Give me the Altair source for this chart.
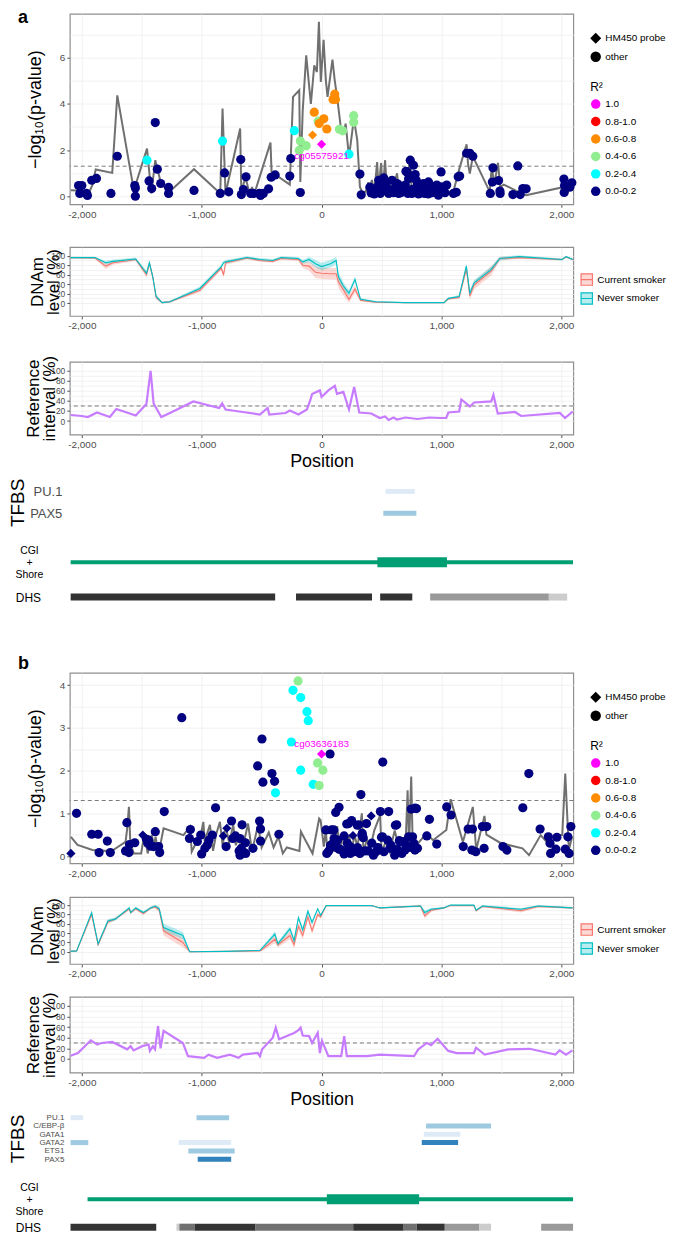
import altair as alt
import pandas as pd

# ---------------- shared settings ----------------
W = 505
XDOM = [-2100, 2100]
XTICKS = [-2000, -1500, -1000, -500, 0, 500, 1000, 1500, 2000]
SIG = 1.3
REF_CUT = 30
R2_DOM = ["1.0", "0.8-1.0", "0.6-0.8", "0.4-0.6", "0.2-0.4", "0.0-0.2"]
R2_COL = ["#FF00FF", "#FF0000", "#FF8C00", "#90EE90", "#00FFFF", "#000080"]
PROBE_DOM = ["HM450 probe", "other"]
PROBE_SHAPE = ["diamond", "circle"]
SMOKE_DOM = ["Current smoker", "Never smoker"]
SMOKE_LINE = ["#F8766D", "#00BFC4"]
SMOKE_FILL = ["rgba(248,118,109,0.28)", "rgba(0,191,196,0.28)"]
TF_LVL = ["low", "mid", "high"]
TF_COL = ["#DEEBF7", "#9ECAE1", "#3182BD"]
DHS_LVL = ["d", "m", "g", "l"]
DHS_COL = ["#333333", "#707070", "#999999", "#CCCCCC"]
CGI_KIND = ["shore", "island"]

# ---------------- panel a data ----------------
a_navy = [(-2027,0.46),(-2000,0.46),(-2017,0.12),(-1961,0.12),(-1953,0.03),(-1917,0.69),(-1878,0.77),(-1757,0.12),
          (-1704,1.73),(-1558,0.46),(-1553,0.36),(-1553,0.0),(-1439,0.66),(-1417,0.33),(-1387,3.19),(-1370,1.17),
          (-1342,0.55),(-1276,0.38),(-1276,0.12),(-1064,0.25),(-845,0.12),(-809,1.01),(-774,0.19),(-674,1.59),
          (-669,0.07),(-652,0.29),(-630,0.84),(-591,0.12),(-569,0.12),(-519,0.12),(-509,0.03),(-486,0.12),
          (-442,0.32),(-420,0.82),(-387,0.92),(-265,0.87),(-257,1.63),(-177,0.16),
          (320,0.96),(331,0.06),(403,0.39),(414,0.14),(430,0.25),(440,0.1),(450,0.3),(464,0.4),(477,0.69),(490,0.12),
          (500,0.2),(505,0.45),(519,0.79),(533,0.55),(540,0.25),(547,0.33),(560,0.12),(575,0.2),(588,0.69),(600,0.15),
          (610,0.2),(616,0.4),(630,0.55),(643,0.12),(655,0.45),(660,0.15),(671,0.33),(685,0.2),(690,0.3),(699,0.48),
          (704,1.08),(712,1.05),(720,0.12),(726,0.76),(740,1.56),(754,0.12),(760,0.3),(767,1.34),(781,0.94),(790,0.69),
          (800,0.48),(810,0.1),(823,0.26),(830,0.4),(850,0.55),(860,0.12),(865,0.3),(878,0.33),(890,0.1),(892,0.62),
          (906,0.4),(920,0.15),(933,0.19),(940,0.4),(950,0.25),(961,0.48),(975,0.04),(985,0.3),(997,1.05),(1000,0.4),
          (1016,0.26),(1030,0.15),(1044,0.48),(1100,0.12),(1124,0.17),(1140,0.84),(1152,0.87),(1210,1.86),(1237,1.86),
          (1262,1.73),(1408,0.12),(1425,0.61),(1430,1.23),(1477,0.68),(1488,0.22),(1490,0.12),(1596,0.07),(1637,1.31),
          (1657,0.07),(1679,0.33),(1707,0.32),(2022,0.74),(2024,0.16),(2027,0.46),(2071,0.39),(2088,0.58)]
a_cyan = [(-1456,1.56),(-826,2.39),(-227,2.84),(229,1.82)]
a_green = [(-186,1.99),(-177,2.39),(-128,2.19),(-28,3.25),(149,2.9),(176,2.83),(268,3.49),(268,3.2)]
a_orange = [(-61,3.64),(-20,3.15),(19,3.35),(44,2.91),(96,4.19),(110,4.42),(116,4.19)]
a_orange_probe = [(-75,2.65)]
a_probe = [(0,2.25)]
a_label = (0, 2.25, "cg05575921")

a_line = [(-2091,0.26),(-1934,0.23),(-1912,0.48),(-1884,1.16),(-1746,1.01),(-1704,4.37),(-1566,0.26),(-1456,2.06),
          (-1420,0.12),(-1387,1.56),(-1370,1.2),(-1342,0.6),(-1276,0.16),(-1064,1.17),(-845,0.12),(-826,3.8),
          (-801,0.12),(-679,2.93),(-669,0.12),(-636,0.84),(-597,0.05),(-580,0.4),(-564,0.05),(-426,2.32),(-415,0.8),
          (-387,0.94),(-265,0.5),(-238,4.3),(-186,4.59),(-177,0.62),(-157,3.72),(-128,6.1),(-89,4.0),(-61,5.67),
          (-39,5.38),(-22,7.56),(-6,4.95),(17,6.78),(36,5.02),(50,4.3),(91,5.92),(110,5.02),(133,4.16),(160,3.0),
          (187,2.8),(201,3.14),(229,1.7),(270,3.36),(298,2.42),(320,0.4),(340,0.17),(370,0.2),(390,0.6),(400,0.15),
          (420,0.7),(440,0.2),(464,1.48),(475,0.3),(497,1.44),(510,0.2),(530,1.56),(545,0.3),(570,0.5),(590,0.15),
          (610,0.6),(630,0.99),(645,0.2),(670,0.4),(690,0.15),(710,0.5),(740,1.7),(750,0.4),(770,0.2),(790,0.8),
          (810,0.2),(830,0.5),(850,0.15),(880,0.4),(900,0.1),(930,0.3),(960,0.15),(990,0.35),(1020,0.1),(1060,0.15),
          (1099,0.19),(1154,1.27),(1210,2.25),(1222,1.4),(1237,0.98),(1262,1.73),(1403,0.19),(1420,1.3),(1440,0.5),
          (1472,1.44),(1490,0.4),(1520,0.5),(1600,0.3),(1637,0.19),(1707,0.04),(2024,0.4),(2055,0.2),(2090,0.55)]

a_dnam_pos = [-2093,-1890,-1800,-1740,-1550,-1460,-1436,-1408,-1380,-1330,-1265,-1015,-836,-818,-800,-622,-515,
              -408,-336,-193,-157,-104,-50,0,75,122,140,182,229,279,325,450,700,1022,1058,1148,1208,1237,1273,1416,
              1487,1648,2005,2041,2095]
a_never = [96,96,85,88,93,63,85,56,14,1,3,31,77,85,87,96,92,90,96,94,87,92,83,77,83,90,56,36,21,50,8,3,1,1,10,14,
           78,21,43,71,94,98,92,98,92]
a_current = [96,95,78,85,92,60,84,55,12,1,3,27,74,59,85,95,90,88,94,92,80,78,65,63,62,62,45,28,8,30,6,2,1,1,9,12,
             72,15,38,68,94,96,92,97,92]
a_never_half = [2,2,4,4,3,5,5,5,4,2,2,4,4,4,4,3,3,3,3,3,4,6,8,8,8,8,10,8,6,6,3,2,1,1,2,3,6,6,6,6,4,3,2,2,2]
a_current_half = [2,2,6,4,3,6,6,6,4,2,2,4,4,6,4,3,3,3,3,3,6,10,12,12,12,12,12,12,8,8,3,2,1,1,2,3,8,8,8,10,4,3,2,2,2]

a_ref = [(-2093,12),(-2000,10),(-1950,8),(-1873,17),(-1766,8),(-1712,24),(-1550,11),(-1461,34),(-1426,100),
         (-1401,35),(-1337,8),(-1265,16),(-1069,39),(-854,26),(-829,35),(-801,23),(-658,18),(-515,13),(-450,26),
         (-436,13),(-300,16),(-265,21),(-193,13),(-122,23),(-93,42),(-79,54),(-14,61),(0,48),(57,61),(111,70),
         (129,54),(182,58),(229,23),(272,68),(315,17),(415,15),(486,6),(530,9),(560,2),(600,7),(629,3),(700,7),
         (800,4),(900,7),(987,6),(1040,6),(1058,17),(1148,19),(1166,43),(1237,29),(1273,37),(1416,39),(1434,52),
         (1470,15),(1613,18),(1666,10),(1988,16),(2031,6),(2095,19)]

a_tf_rows = ["PU.1", "PAX5"]
a_tf = [("PU.1", 533, 778, "low"), ("PAX5", 515, 791, "mid")]
a_cgi = [("shore", -2093, 2098), ("island", 466, 1046)]
a_dhs = [(-2093, -387, "d"), (-213, 421, "d"), (489, 757, "d"), (906, 1896, "g"), (1896, 2049, "l")]

# ---------------- panel b data ----------------
b_navy = [(-2044,1.0),(-1917,0.51),(-1864,0.51),(-1856,0.08),(-1787,0.35),(-1762,0.08),(-1624,0.78),(-1635,0.12),
          (-1607,0.08),(-1602,0.27),(-1558,0.31),(-1461,0.39),(-1450,0.30),(-1442,0.37),(-1425,0.23),(-1400,0.22),
          (-1387,0.57),(-1359,0.22),(-1350,0.08),(-1312,1.04),(-1166,3.24),(-1094,0.62),(-1102,0.41),(-1036,0.34),
          (-1008,0.49),(-1000,0.05),(-973,0.18),(-953,0.26),(-939,0.37),(-911,0.49),(-884,1.13),(-796,0.22),
          (-751,0.82),(-740,0.41),(-718,0.47),(-688,0.12),(-680,0.41),(-680,0.02),(-669,0.18),(-663,0.73),(-655,0.1),
          (-635,0.31),(-633,0.06),(-572,0.18),(-533,2.11),(-517,0.82),(-509,0.63),(-509,0.35),(-497,2.74),(-489,1.73),
          (-414,1.93),(-392,1.75),(-356,0.51),
          (36,0.61),(44,0.06),(60,0.12),(71,2.39),(75,0.25),(83,0.61),(96,0.3),(102,0.61),(105,0.41),(118,1.02),
          (125,0.2),(133,0.37),(146,1.14),(146,0.16),(160,0.15),(188,0.47),(188,0.05),(200,0.1),(210,0.75),(215,0.3),
          (226,0.76),(237,0.22),(240,0.06),(251,0.83),(270,0.1),(298,0.72),(300,0.2),(309,0.73),(320,0.06),(328,1.44),
          (336,0.49),(340,0.53),(348,0.43),(361,0.12),(375,0.76),(390,0.12),(420,0.3),(433,0.02),(455,0.1),(470,0.2),
          (491,1.04),(500,0.44),(508,0.45),(511,2.2),(520,0.1),(552,0.37),(560,1.04),(571,0.18),(580,0.25),(610,0.02),
          (616,0.72),(627,0.73),(630,0.15),(649,0.36),(655,0.33),(670,0.06),(685,0.34),(696,0.14),(705,0.25),
          (726,0.45),(735,0.2),(748,1.1),(759,0.45),(770,0.3),(779,0.14),(781,1.12),(792,1.11),(800,0.18),(878,0.47),
          (900,0.86),(961,0.28),(1044,1.15),(1080,0.96),(1182,0.22),(1223,0.63),(1254,0.14),(1259,0.63),(1287,0.1),
          (1342,0.69),(1356,0.18),(1378,0.69),(1513,0.22),(1546,0.14),(1679,1.13),(1729,1.93),(1823,0.63),(1892,0.45),
          (1906,0.3),(1911,0.06),(1955,0.16),(1963,0.44),(2033,0.16),(2055,0.45),(2065,0.06),(2080,0.69)]
b_navy_probe = [(-2091,0.06),(-1491,0.49),(-820,0.47),(-790,0.65),(262,0.48),(414,0.94)]
b_cyan = [(-384,1.48),(-252,2.67),(-238,3.88),(-174,3.71),(-122,3.38),(-111,3.17),(-174,2.01),(-69,1.68)]
b_green = [(-196,4.10),(-33,2.18),(11,2.01),(-20,1.65)]
b_probe = [(0,2.39)]
b_label = (0, 2.39, "cg03636183")

b_line = [(-2091,0.45),(-2036,0.26),(-1911,0.14),(-1787,0.12),(-1760,0.1),(-1635,0.33),(-1621,0.65),(-1607,1.15),
          (-1595,0.3),(-1566,0.06),(-1505,0.06),(-1478,0.51),(-1450,0.06),(-1415,0.49),(-1400,0.2),(-1385,0.45),
          (-1359,0.06),(-1318,0.65),(-1152,0.49),(-1097,0.69),(-1083,0.1),(-1040,0.35),(-1010,0.45),(-986,0.8),
          (-975,0.35),(-931,0.73),(-905,0.12),(-880,0.5),(-848,0.8),(-825,0.25),(-800,0.7),(-770,0.3),(-737,0.73),
          (-715,0.25),(-690,0.5),(-665,0.1),(-613,0.76),(-580,0.1),(-530,0.73),(-500,0.2),(-440,0.55),(-400,0.2),
          (-360,0.45),(-323,0.06),(-290,0.2),(-185,0.12),(-172,0.57),(-150,0.45),(-75,0.06),(-20,0.88),(-8,0.84),
          (19,0.22),(35,0.6),(50,0.1),(80,0.4),(100,0.1),(130,0.7),(155,0.1),(180,0.55),(200,0.1),(230,0.5),(250,0.1),
          (275,0.5),(300,0.2),(336,1.0),(350,0.1),(380,0.4),(400,0.1),(440,0.6),(489,0.96),(500,0.1),(540,0.35),
          (570,0.1),(610,0.6),(650,0.15),(700,0.2),(718,1.54),(730,0.2),(748,1.86),(760,0.3),(806,0.3),(875,0.53),
          (930,0.37),(1041,0.61),(1077,1.33),(1179,0.33),(1262,1.15),(1290,0.14),(1359,0.94),(1375,0.5),(1496,0.3),
          (1676,0.18),(1731,0.02),(1828,0.49),(1911,0.22),(1952,0.49),(2008,0.49),(2033,1.93),(2063,0.14),(2090,0.45)]

b_dnam_pos = [-2093,-2043,-1918,-1864,-1782,-1721,-1604,-1593,-1550,-1486,-1425,-1389,-1354,-1318,-1157,-1100,-800,
              -514,-496,-389,-364,-264,-229,-193,-157,-114,-79,-32,-7,39,414,486,825,861,914,1021,1075,1271,1289,1343,
              1664,1807,2093]
b_never = [1,2,84,17,66,70,94,84,94,84,94,98,92,52,35,0,1,3,8,38,17,49,24,73,47,87,63,92,78,99,99,94,98,84,91,94,
           100,100,89,98,91,98,94]
b_current = [1,2,80,15,64,70,92,84,92,82,94,96,90,45,20,0,1,2,5,27,15,35,15,55,35,75,45,80,75,99,99,94,98,77,89,94,
             99,99,88,97,88,97,94]
b_never_half = [1,1,4,4,4,3,3,3,3,3,3,3,5,8,8,1,1,1,2,6,5,6,6,6,6,5,5,3,3,1,1,1,2,5,3,2,1,1,2,2,3,2,2]
b_current_half = [1,1,4,4,4,3,3,3,3,3,3,3,6,10,10,1,1,1,3,8,6,8,8,8,8,7,7,5,4,1,1,1,2,6,3,2,1,1,2,2,4,2,2]

b_ref = [(-2093,6),(-2032,11),(-1925,35),(-1871,27),(-1836,30),(-1746,32),(-1621,18),(-1593,24),(-1568,16),
         (-1496,24),(-1443,27),(-1432,15),(-1407,24),(-1389,18),(-1364,62),(-1343,20),(-1318,53),(-1157,30),
         (-1114,5),(-979,2),(-943,8),(-871,2),(-764,8),(-693,2),(-657,8),(-532,11),(-514,5),(-496,18),(-407,40),
         (-382,59),(-354,37),(-229,49),(-193,54),(-175,59),(-157,44),(-104,43),(-79,30),(-32,49),(-14,11),(4,34),
         (57,5),(164,5),(189,43),(211,5),(379,5),(486,8),(771,5),(807,18),(879,30),(914,26),(968,38),(1057,15),
         (1129,11),(1271,11),(1289,21),(1361,8),(1557,18),(1736,19),(1950,8),(1986,16),(2039,8),(2093,16)]

b_tf_rows = ["PU.1", "C/EBP-\u03b2", "GATA1", "GATA2", "ETS1", "PAX5"]
b_tf = [("PU.1", -2094, -1989, "low"), ("PU.1", -1043, -771, "mid"), ("C/EBP-\u03b2", 872, 1414, "mid"),
        ("GATA1", 853, 1157, "low"), ("GATA2", -2094, -1946, "mid"), ("GATA2", -1193, -754, "low"),
        ("GATA2", 836, 1139, "high"), ("ETS1", -1111, -725, "mid"), ("PAX5", -1033, -754, "high")]
b_cgi = [("shore", -1952, 2098), ("island", 44, 814)]
b_dhs = [(-2094, -1379, "d"), (-1210, -1186, "l"), (-1186, -1060, "m"), (-1060, -550, "d"), (-550, 264, "m"),
         (264, 685, "d"), (685, 793, "m"), (793, 1028, "d"), (1028, 1317, "g"), (1317, 1414, "l"), (1832, 2098, "g")]

# ---------------- helpers ----------------
XS = alt.Scale(domain=XDOM, nice=False, zero=False)
FRAME = alt.ViewBackground(stroke="#8F8F8F", strokeWidth=1.2)
GRID = "#EDEDED"


def x_axis(title=None):
    return alt.Axis(
        values=XTICKS,
        labelExpr="datum.value % 1000 === 0 ? replace(format(datum.value, ','), '\u2212', '-') : ''",
        tickOpacity={"condition": {"test": "datum.value % 1000 !== 0", "value": 0}, "value": 1},
        grid=True, gridColor=GRID, gridWidth=0.8, domain=False,
        tickColor="#555555", tickSize=3, labelFontSize=10, labelColor="#4D4D4D", labelPadding=2,
        labelOverlap=False, labelFlush=False,
        title=title, titleFontSize=18, titleFontWeight="normal", titleColor="#000000", titlePadding=3)


def y_axis(values, every, title, title_x, fs=17, lh=16, lfs=10):
    return alt.Axis(
        values=values,
        labelExpr=f"datum.value % {every} === 0 ? format(datum.value, ',') : ''",
        tickOpacity={"condition": {"test": f"datum.value % {every} !== 0", "value": 0}, "value": 1},
        grid=True, gridColor=GRID, gridWidth=0.8, domain=False,
        tickColor="#555555", tickSize=3, labelFontSize=lfs, labelColor="#4D4D4D", labelPadding=2,
        labelOverlap=False, labelFlush=False,
        title=title, titleX=title_x, titleFontSize=fs, titleLineHeight=lh,
        titleFontWeight="normal", titleColor="#000000")


def scatter_panel(groups, line_pts, lab, ydom, yvals, every, letter, letter_y, lab_dy):
    rows = []
    for r2, probe, pts in groups:
        for p, v in pts:
            rows.append({"pos": p, "p": v, "r2": r2, "probe": probe})
    dfp = pd.DataFrame(rows)
    dfl = pd.DataFrame(line_pts, columns=["pos", "p"])
    dft = pd.DataFrame([lab], columns=["pos", "p", "t"])
    X = alt.X("pos:Q", scale=XS, axis=x_axis())
    Y = alt.Y("p:Q", scale=alt.Scale(domain=ydom, nice=False, zero=False),
              axis=y_axis(yvals, every, "\u2212log\u2081\u2080(p-value)", -25, fs=18, lh=18))
    sig = alt.Chart(pd.DataFrame({"p": [SIG]})).mark_rule(
        color="#7A7A7A", strokeDash=[4, 3], strokeWidth=1).encode(y=Y)
    line = alt.Chart(dfl).mark_line(color="#707070", strokeWidth=2).encode(x=X, y=Y)
    pts = alt.Chart(dfp).mark_point(filled=True, size=85, opacity=1).encode(
        x=X, y=Y,
        color=alt.Color("r2:N", scale=alt.Scale(domain=R2_DOM, range=R2_COL),
                        legend=alt.Legend(title="R\u00b2", orient="none", legendX=522, legendY=68,
                                          symbolType="circle", symbolSize=90, labelFontSize=10,
                                          titleFontSize=12, titleFontWeight="normal", rowPadding=6.5,
                                          titlePadding=5, labelColor="#000000")),
        shape=alt.Shape("probe:N", scale=alt.Scale(domain=PROBE_DOM, range=PROBE_SHAPE),
                        legend=alt.Legend(title=None, orient="none", legendX=522, legendY=19,
                                          symbolFillColor="#000000", symbolStrokeColor="#000000",
                                          symbolSize=80, labelFontSize=10, rowPadding=3.5,
                                          labelColor="#000000")))
    txt = alt.Chart(dft).mark_text(color="#FF00FF", fontSize=10, dy=lab_dy).encode(x=X, y=Y, text="t:N")
    letter_mark = alt.Chart(pd.DataFrame({"t": [letter]})).mark_text(
        fontSize=18, fontWeight="bold", align="left", baseline="top", color="#000000"
    ).encode(x=alt.value(-52), y=alt.value(letter_y), text="t:N")
    return alt.layer(sig, line, pts, txt, letter_mark).properties(width=W, height=191, view=FRAME)


def dnam_panel(pos, nev, cur, hn, hc, h, ydom):
    rows = []
    for i, p in enumerate(pos):
        rows.append({"pos": p, "grp": "Current smoker", "val": cur[i], "lo": cur[i] - hc[i], "hi": cur[i] + hc[i]})
        rows.append({"pos": p, "grp": "Never smoker", "val": nev[i], "lo": nev[i] - hn[i], "hi": nev[i] + hn[i]})
    df = pd.DataFrame(rows)
    X = alt.X("pos:Q", scale=XS, axis=x_axis())
    ys = alt.Scale(domain=ydom, nice=False, zero=False)
    yax = y_axis(list(range(0, 101, 10)), 20, ["DNAm", "level (%)"], -23, lfs=8.5)
    leg = alt.Legend(title=None, orient="none", legendX=512, legendY=26,
                     symbolType="M-1,-1H1V1H-1Z M-1,0H1", symbolSize=130, symbolStrokeWidth=1.2,
                     labelFontSize=10, rowPadding=2, labelColor="#000000")
    band = alt.Chart(df).mark_area().encode(
        x=X, y=alt.Y("lo:Q", scale=ys, axis=yax), y2="hi:Q",
        fill=alt.Fill("grp:N", scale=alt.Scale(domain=SMOKE_DOM, range=SMOKE_FILL), legend=leg))
    line = alt.Chart(df).mark_line(strokeWidth=1.1).encode(
        x=X, y=alt.Y("val:Q", scale=ys, axis=yax),
        stroke=alt.Stroke("grp:N", scale=alt.Scale(domain=SMOKE_DOM, range=SMOKE_LINE), legend=leg))
    return alt.layer(band, line).properties(width=W, height=h, view=FRAME)


def ref_panel(pts, h, ydom):
    df = pd.DataFrame(pts, columns=["pos", "v"])
    X = alt.X("pos:Q", scale=XS, axis=x_axis("Position"))
    Y = alt.Y("v:Q", scale=alt.Scale(domain=ydom, nice=False, zero=False),
              axis=y_axis(list(range(0, 101, 10)), 20, ["Reference", "interval (%)"], -27, lfs=8.5))
    cut = alt.Chart(pd.DataFrame({"v": [REF_CUT]})).mark_rule(
        color="#7A7A7A", strokeDash=[4, 3], strokeWidth=1).encode(y=Y)
    line = alt.Chart(df).mark_line(color="#C77CFF", strokeWidth=2.2).encode(x=X, y=Y)
    return alt.layer(cut, line).properties(width=W, height=h, view=FRAME)


def tf_panel(rows, bars, h, fs, pad):
    df = pd.DataFrame(bars, columns=["tf", "start", "end", "lvl"])
    return alt.Chart(df).mark_rule(strokeWidth=5).encode(
        x=alt.X("start:Q", scale=XS, axis=None), x2="end:Q",
        y=alt.Y("tf:N", scale=alt.Scale(type="point", domain=rows, padding=0.5),
                axis=alt.Axis(title="TFBS", titleX=-42, titleFontSize=19, titleFontWeight="normal",
                              titleColor="#000000", labelFontSize=fs, labelColor="#4D4D4D", labelPadding=pad,
                              ticks=False, domain=False, grid=False, labelOverlap=False)),
        color=alt.Color("lvl:N", scale=alt.Scale(domain=TF_LVL, range=TF_COL), legend=None),
    ).properties(width=W, height=h)


def cgi_panel(segs, h):
    df = pd.DataFrame(segs, columns=["kind", "start", "end"])
    df["row"] = "CGI"
    lh = 12
    return alt.Chart(df).mark_rule(color="#009E73").encode(
        x=alt.X("start:Q", scale=XS, axis=None), x2="end:Q",
        y=alt.Y("row:N", scale=alt.Scale(type="point", domain=["CGI"], padding=0.5),
                axis=alt.Axis(title=["CGI", "+", "Shore"], titleAngle=0, titleX=-41, titleY=h / 2 - lh,
                              titleAlign="center", titleBaseline="middle", titleLineHeight=lh,
                              titleFontSize=10.5, titleFontWeight="normal", titleColor="#000000",
                              labels=False, ticks=False, domain=False, grid=False)),
        strokeWidth=alt.StrokeWidth("kind:N", scale=alt.Scale(domain=CGI_KIND, range=[4, 10]), legend=None),
    ).properties(width=W, height=h)


def dhs_panel(segs, h):
    df = pd.DataFrame(segs, columns=["start", "end", "lvl"])
    df["row"] = "DHS"
    return alt.Chart(df).mark_rule(strokeWidth=7).encode(
        x=alt.X("start:Q", scale=XS, axis=None), x2="end:Q",
        y=alt.Y("row:N", scale=alt.Scale(type="point", domain=["DHS"], padding=0.5),
                axis=alt.Axis(title="DHS", titleAngle=0, titleX=-42, titleY=h / 2,
                              titleAlign="center", titleBaseline="middle",
                              titleFontSize=12, titleFontWeight="normal", titleColor="#000000",
                              labels=False, ticks=False, domain=False, grid=False)),
        color=alt.Color("lvl:N", scale=alt.Scale(domain=DHS_LVL, range=DHS_COL), legend=None),
    ).properties(width=W, height=h)


def spacer(h):
    return alt.Chart(pd.DataFrame({"s": [0]})).mark_point(opacity=0).encode(
        x=alt.X("s:Q", axis=None), y=alt.Y("s:Q", axis=None)).properties(width=W, height=h)


A_GROUPS = [("0.0-0.2", "other", a_navy), ("0.2-0.4", "other", a_cyan), ("0.4-0.6", "other", a_green),
            ("0.6-0.8", "other", a_orange), ("0.6-0.8", "HM450 probe", a_orange_probe),
            ("1.0", "HM450 probe", a_probe)]
B_GROUPS = [("0.0-0.2", "other", b_navy), ("0.0-0.2", "HM450 probe", b_navy_probe),
            ("0.2-0.4", "other", b_cyan), ("0.4-0.6", "other", b_green), ("1.0", "HM450 probe", b_probe)]

scatter_a = scatter_panel(A_GROUPS, a_line, a_label, [-0.35, 7.9], list(range(0, 8)), 2, "a", -5, 12)
scatter_b = scatter_panel(B_GROUPS, b_line, b_label, [-0.17, 4.29], [i / 2 for i in range(0, 9)], 1, "b", -18, -10)

panels = [
    scatter_a, spacer(43),
    dnam_panel(a_dnam_pos, a_never, a_current, a_never_half, a_current_half, 69, [-27, 118]), spacer(46),
    ref_panel(a_ref, 73, [-27, 118]), spacer(46),
    tf_panel(a_tf_rows, a_tf, 44, 13, 8), spacer(23),
    cgi_panel(a_cgi, 30), dhs_panel(a_dhs, 40), spacer(56),
    scatter_b, spacer(34),
    dnam_panel(b_dnam_pos, b_never, b_current, b_never_half, b_current_half, 67, [-26, 117]), spacer(33),
    ref_panel(b_ref, 76, [-26, 117]), spacer(41),
    tf_panel(b_tf_rows, b_tf, 50, 8, 6), spacer(21),
    cgi_panel(b_cgi, 30), spacer(4), dhs_panel(b_dhs, 18),
]

chart = alt.vconcat(*panels, spacing=0, bounds="flush").resolve_scale(
    color="independent", fill="independent", stroke="independent", shape="independent",
    strokeWidth="independent"
).properties(
    padding={"left": 0, "top": -2, "right": 0, "bottom": 0}
).configure(font="Liberation Sans").configure_view(stroke="transparent")

chart.save("out.html", embed_options={"renderer": "svg", "actions": False})
